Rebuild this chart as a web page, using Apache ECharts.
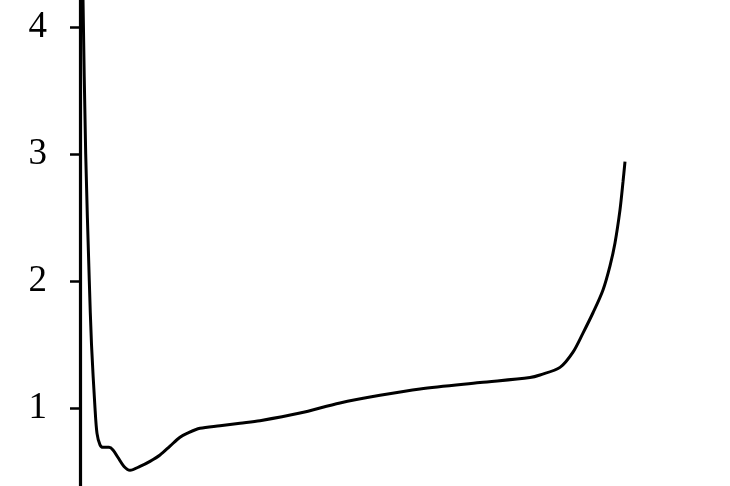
<!DOCTYPE html>
<html><head><meta charset="utf-8">
<script src="https://cdn.jsdelivr.net/npm/echarts@6/dist/echarts.min.js"></script>
<style>html,body{margin:0;padding:0;background:#fff;}#c{width:730px;height:486px;}</style>
</head><body><div id="c"></div>
<script>
const xValues = [1.5, 3, 5.7, 9.3, 11.5, 15, 17, 20, 23, 29, 33, 38, 44, 50, 60, 70, 80, 90, 100, 107, 120, 140, 160, 180, 220, 260, 300, 340, 400, 450, 460, 480, 493, 503, 513, 523, 530, 535, 540, 543, 545];
const yValues = [5.2, 4.22, 3.0, 2.0, 1.5, 1.0, 0.8, 0.71, 0.69, 0.69, 0.67, 0.61, 0.54, 0.51, 0.54, 0.58, 0.63, 0.70, 0.77, 0.80, 0.84, 0.86, 0.88, 0.90, 0.96, 1.04, 1.10, 1.15, 1.20, 1.24, 1.26, 1.32, 1.44, 1.59, 1.75, 1.93, 2.12, 2.30, 2.56, 2.78, 2.94];
const yTicks = [0, 1, 2, 3, 4, 5];

const chart = echarts.init(document.getElementById('c'));
chart.setOption({
  backgroundColor: '#fff',
  animation: false,
  grid: {left: 80, top: -100, width: 550, height: 635, containLabel: false, outerBoundsMode: 'none'},
  xAxis: {type: 'value', min: 0, max: 550, show: false},
  yAxis: {
    type: 'value', min: yTicks[0], max: yTicks[yTicks.length - 1], interval: 1,
    axisLine: {show: true, lineStyle: {color: '#000', width: 3.2}},
    axisTick: {show: true, length: 10, lineStyle: {color: '#000', width: 2.5}},
    splitLine: {show: false},
    axisLabel: {color: '#000', fontFamily: '"Liberation Serif", "Times New Roman", serif', fontSize: 37, margin: 33}
  },
  series: [{
    type: 'line', smooth: 0.3, symbol: 'none',
    lineStyle: {color: '#000', width: 3},
    data: xValues.map((x, i) => [x, yValues[i]])
  }]
});
</script></body></html>
